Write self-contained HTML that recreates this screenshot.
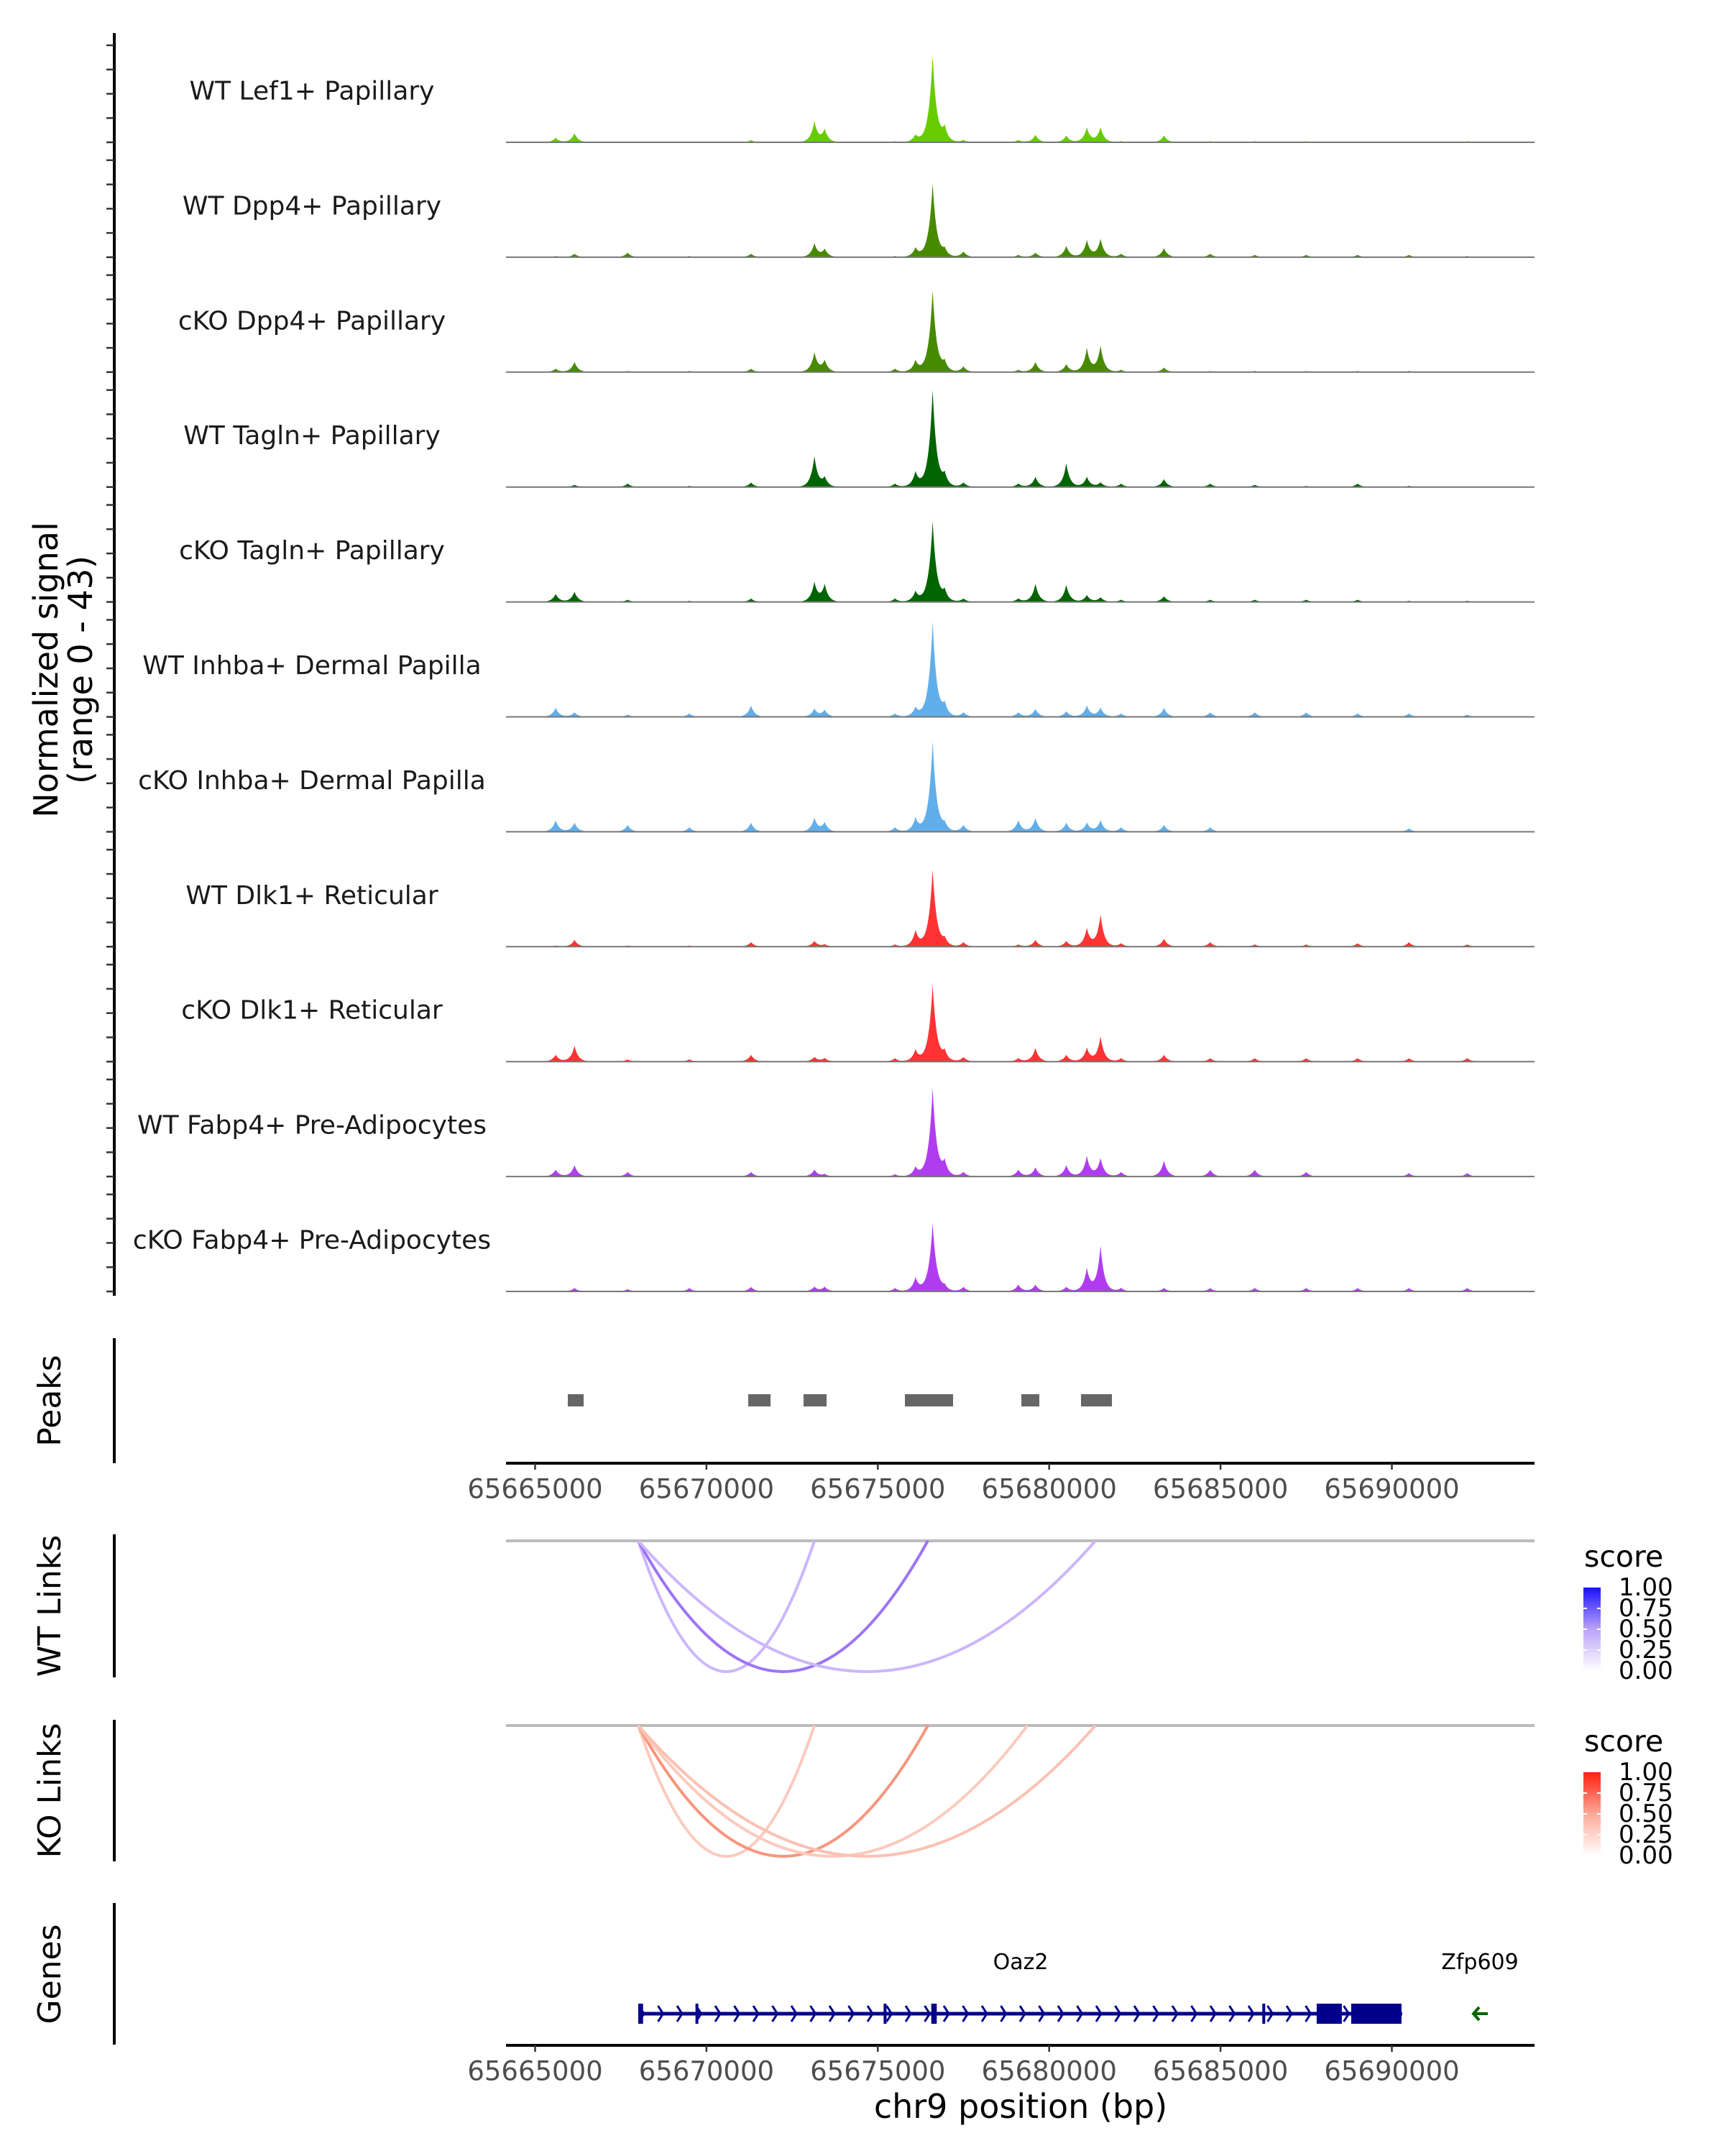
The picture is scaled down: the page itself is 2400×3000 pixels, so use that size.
<!DOCTYPE html>
<html><head><meta charset="utf-8"><title>Coverage tracks</title>
<style>
html,body{margin:0;padding:0;background:#fff;}
svg{display:block;font-family:"DejaVu Sans","Liberation Sans",sans-serif;}
</style></head>
<body>
<svg id="chart" width="2400" height="3000" viewBox="0 0 2400 3000" xmlns="http://www.w3.org/2000/svg">
<defs>
<linearGradient id="gradWT" x1="0" y1="1" x2="0" y2="0">
<stop offset="0" stop-color="#ffffff"/><stop offset="0.5" stop-color="#b9a4f8"/><stop offset="1" stop-color="#1a10ff"/>
</linearGradient>
<linearGradient id="gradKO" x1="0" y1="1" x2="0" y2="0">
<stop offset="0" stop-color="#ffffff"/><stop offset="0.5" stop-color="#fcaa98"/><stop offset="1" stop-color="#ff2010"/>
</linearGradient>
</defs>
<g id="root"></g>
</svg>
<script>
// ---- data ----
const trackNames = ["WT Lef1+ Papillary","WT Dpp4+ Papillary","cKO Dpp4+ Papillary","WT Tagln+ Papillary","cKO Tagln+ Papillary","WT Inhba+ Dermal Papilla","cKO Inhba+ Dermal Papilla","WT Dlk1+ Reticular","cKO Dlk1+ Reticular","WT Fabp4+ Pre-Adipocytes","cKO Fabp4+ Pre-Adipocytes"];
const trackColors = ["#66cc00","#478a00","#478a00","#006400","#006400","#62aeea","#62aeea","#ff3333","#ff3333","#b03cf0","#b03cf0"];
const peakLoci = [65665600,65666150,65667700,65669500,65671300,65673150,65673450,65675500,65676100,65676600,65676950,65677500,65679100,65679600,65680500,65681100,65681500,65682100,65683350,65684700,65686000,65687500,65689000,65690500,65692200];
const sigLef1WT   = [2,4,0.3,0.3,1,9,5.5,0.5,3,38,6,1,1,3.3,3,6.5,6.5,0.5,3,0.5,0.5,0.5,0.3,0.3,0.5];
const sigDpp4WT   = [0.5,1.5,2,0.5,1.5,6,3.5,0.5,4,32.5,3,2.5,1,2,5,7.5,8,1.5,4,1.5,1,1,1,1,0.5];
const sigDpp4KO   = [1.5,4.5,0.5,0.5,1.5,8.5,5,1.5,5,36,4,2.5,1,4.5,3.5,10.5,11.5,1,2,0.5,0.5,0.5,0.5,0.5,0.3];
const sigTaglnWT  = [0,1,1.5,0.5,2,13.5,4,1.5,6.5,43,5,2,1.5,4.5,10.5,4.5,2,1.5,3.5,1.5,1,0.5,1.5,0.5,0];
const sigTaglnKO  = [3.5,4.5,1,0.5,1.5,8.5,7.5,1.5,4.5,35.5,4.5,1.5,1.5,8,7.5,3,2,1,2.5,1,1,1,1,0.5,0.5];
const sigInhbaWT  = [4,2,1,1.5,5,3.5,3,1.5,4,42,5,2,2,3.5,2.5,5,4,1.5,4,2,2,2,1.5,1.5,1];
const sigInhbaKO  = [5,4,3,2,4,6,4,2,6,40,3,3,5,6,4,4,5,2,3,2,0,0,0,1.5,0];
const sigDlk1WT   = [0.5,3,0.5,0.5,2,2.5,1,1,7,34,3,2,1,3,2.5,8,14,1.5,3.5,2,1,1,1.5,2,1];
const sigDlk1KO   = [3,7,1,1,3,2,1.5,1.5,5,34,4,2,1.5,6,3,6,11,1.5,3,1.5,1.5,1.5,1.5,1.5,1.5];
const sigFabp4WT  = [3,5,2,0,2,3,1,1,4,39,6,2,3,4,5,9,8,2,7,3,3,2,0,1.5,1.5];
const sigFabp4KO  = [0,1.5,1,1.5,2,2,2,1.5,6,30,2,2,3,3,2,10,20,1.5,1.5,1.5,1.5,1.5,1.5,1.5,1.5];
const trackSignals = [sigLef1WT,sigDpp4WT,sigDpp4KO,sigTaglnWT,sigTaglnKO,sigInhbaWT,sigInhbaKO,sigDlk1WT,sigDlk1KO,sigFabp4WT,sigFabp4KO];
const peakStarts = [65665954,65671219,65672833,65675791,65679189,65680930];
const peakEnds   = [65666416,65671870,65673505,65677196,65679713,65681832];
const xTicks = [65665000,65670000,65675000,65680000,65685000,65690000];
const wtLinkStart = [65668010,65668010,65668010];
const wtLinkEnd   = [65673150,65676460,65681350];
const wtLinkScore = [0.3,0.65,0.3];
const koLinkStart = [65668010,65668010,65668010,65668010];
const koLinkEnd   = [65673150,65676460,65679365,65681350];
const koLinkScore = [0.25,0.55,0.25,0.3];
const legendTicks = ["1.00","0.75","0.50","0.25","0.00"];
const geneStart = 65668010, geneEnd = 65690300;
const exonStarts = [65668010,65669680,65675170,65676560,65686220,65687806,65688813];
const exonEnds   = [65668150,65669760,65675230,65676720,65686300,65688540,65690281];
const signalMax = 43;

// ---- scales ----
const X0 = 704, X1 = 2135;
function xs(g){ return 744.5 + (g - 65665000) / 5000 * 238.4; }
const trackBase0 = 198, trackStep = 159.9, trackH = 135;
function ys(v, base){ return base - Math.min(v, signalMax) / signalMax * trackH; }

const NS = "http://www.w3.org/2000/svg";
const root = document.getElementById("root");
function mk(tag, attrs, parent){
  const e = document.createElementNS(NS, tag);
  for (const k in attrs) e.setAttribute(k, attrs[k]);
  (parent || root).appendChild(e);
  return e;
}

// left y-axis for coverage
let e = mk("line",{x1:159,y1:46,x2:159,y2:1803,stroke:"#000","stroke-width":4});


for (let i=0;i<trackNames.length;i++){
  const base = trackBase0 + i*trackStep;
  for (let k=0;k<5;k++){
    const ty = base - k*trackH/4;
    const t = mk("line",{x1:148,y1:ty,x2:159,y2:ty,stroke:"#333","stroke-width":2.5});
    
    
  }
}
e = mk("text",{transform:"translate(80,932) rotate(-90)","text-anchor":"middle","font-size":46,fill:"#000"});
e.textContent = "Normalized signal";


e = mk("text",{transform:"translate(128,932) rotate(-90)","text-anchor":"middle","font-size":46,fill:"#000"});
e.textContent = "(range 0 - 43)";



// tracks
for (let i=0;i<trackNames.length;i++){
  const base = trackBase0 + i*trackStep;
  const g = mk("g",{});
  
  
  const lab = mk("text",{x:434,y:base-71,"text-anchor":"middle","dominant-baseline":"central","font-size":36,fill:"#1a1a1a"},g);
  lab.textContent = trackNames[i];
  
  
  const sig = trackSignals[i];
  let d = "M" + xs(65665300).toFixed(1) + "," + base;
  for (let gpos=65665300; gpos<=65692800; gpos+=25){
    let v = 0;
    for (let j=0;j<peakLoci.length;j++){
      const w = sig[j] > 20 ? 120 : 110;
      v += sig[j] * Math.exp(-Math.abs(gpos - peakLoci[j]) / w);
    }
    d += "L" + xs(gpos).toFixed(1) + "," + ys(v, base).toFixed(1);
  }
  d += "L" + xs(65692800).toFixed(1) + "," + base + "Z";
  const area = mk("path",{d:d,fill:trackColors[i],stroke:"none"},g);
  
  
  const bl = mk("line",{x1:X0,y1:base,x2:X1,y2:base,stroke:"#777","stroke-width":2},g);
  
  
}

// peaks panel
e = mk("line",{x1:159,y1:1862,x2:159,y2:2036,stroke:"#000","stroke-width":4});


e = mk("text",{transform:"translate(84,1949) rotate(-90)","text-anchor":"middle","font-size":44,fill:"#000"});
e.textContent = "Peaks";


for (let i=0;i<peakStarts.length;i++){
  const r = mk("rect",{x:xs(peakStarts[i]),y:1940,width:xs(peakEnds[i])-xs(peakStarts[i]),height:17,fill:"#666"});
  
  
}
function xAxis(y, name){
  const a = mk("line",{x1:X0,y1:y,x2:X1,y2:y,stroke:"#000","stroke-width":4});
  
  
  for (let i=0;i<xTicks.length;i++){
    const tx = xs(xTicks[i]);
    const t = mk("line",{x1:tx,y1:y,x2:tx,y2:y+9,stroke:"#333","stroke-width":2.5});
    
    
    const l = mk("text",{x:tx,y:y+36,"text-anchor":"middle","dominant-baseline":"central","font-size":37,fill:"#4d4d4d"});
    l.textContent = xTicks[i];
    
    
  }
}
xAxis(2036,'peaks-x-axis');

// links
function linkPanel(base, starts, ends, scores, c0, c1, title, axisTop, axisBot, name){
  const ax = mk("line",{x1:159,y1:axisTop,x2:159,y2:axisBot,stroke:"#000","stroke-width":4});
  
  
  const tt = mk("text",{transform:"translate(84,"+((axisTop+axisBot)/2)+") rotate(-90)","text-anchor":"middle","font-size":44,fill:"#000"});
  tt.textContent = title;
  
  
  const bl = mk("line",{x1:X0,y1:base,x2:X1,y2:base,stroke:"#bbbbbb","stroke-width":4});
  
  
  const depth = 182;
  for (let i=0;i<starts.length;i++){
    const a = xs(starts[i]), b = xs(ends[i]);
    const s = scores[i];
    const col = "rgb(" + Math.round(c0[0]+(c1[0]-c0[0])*s) + "," + Math.round(c0[1]+(c1[1]-c0[1])*s) + "," + Math.round(c0[2]+(c1[2]-c0[2])*s) + ")";
    const p = mk("path",{d:"M"+a+","+base+" Q"+((a+b)/2)+","+(base+2*depth)+" "+b+","+base,fill:"none",stroke:col,"stroke-width":4});
    
    
  }
}
linkPanel(2144, wtLinkStart, wtLinkEnd, wtLinkScore, [244,238,255],[110,50,240], "WT Links", 2135, 2334, 'wt-links');
linkPanel(2401, koLinkStart, koLinkEnd, koLinkScore, [255,246,242],[240,70,30], "KO Links", 2393, 2590, 'ko-links');

// legends
function legend(top, grad, name){
  const g = mk("g",{});
  
  
  const t = mk("text",{x:2204,y:top-29,"font-size":41,fill:"#000"},g);
  t.textContent = "score";
  
  
  const r = mk("rect",{x:2203,y:top,width:24,height:116,fill:"url(#"+grad+")"},g);
  
  
  for (let i=0;i<legendTicks.length;i++){
    const yy = top + i*116/4;
    if (i>0 && i<4){
      const tk = mk("line",{x1:2203,y1:yy,x2:2208,y2:yy,stroke:"#fff","stroke-width":2},g);
      
      
      const tk2 = mk("line",{x1:2222,y1:yy,x2:2227,y2:yy,stroke:"#fff","stroke-width":2},g);
      
      
    }
    const l = mk("text",{x:2252,y:yy,"dominant-baseline":"central","font-size":34,fill:"#000"},g);
    l.textContent = legendTicks[i];
    
    
  }
}
legend(2209,'gradWT','wt-score-legend');
legend(2466,'gradKO','ko-score-legend');

// genes
e = mk("line",{x1:159,y1:2648,x2:159,y2:2845,stroke:"#000","stroke-width":4});


e = mk("text",{transform:"translate(84,2747) rotate(-90)","text-anchor":"middle","font-size":44,fill:"#000"});
e.textContent = "Genes";


const gy = 2802;
const geneG = mk("g",{});


e = mk("line",{x1:xs(geneStart),y1:gy,x2:xs(geneEnd),y2:gy,stroke:"#00008b","stroke-width":5},geneG);


for (let x = xs(geneStart)+4; x < xs(geneEnd)-6; x += 26.5){
  const c = mk("path",{d:"M"+(x-3)+","+(gy-11)+" L"+(x+4)+","+gy+" L"+(x-3)+","+(gy+11),fill:"none",stroke:"#00008b","stroke-width":3},geneG);
  
  
}
for (let i=0;i<exonStarts.length;i++){
  const w = Math.max(4, xs(exonEnds[i])-xs(exonStarts[i]));
  const r = mk("rect",{x:xs(exonStarts[i]),y:gy-14,width:w,height:28,fill:"#00008b"},geneG);
  
  
}
e = mk("text",{x:1420,y:2740,"text-anchor":"middle","font-size":30,fill:"#000"});
e.textContent = "Oaz2";


e = mk("text",{x:2059,y:2740,"text-anchor":"middle","font-size":30,fill:"#000"});
e.textContent = "Zfp609";


e = mk("path",{d:"M2070,2802 L2050,2802 M2058,2793 L2050,2802 L2058,2811",fill:"none",stroke:"#006400","stroke-width":4});



xAxis(2846,'genes-x-axis');
e = mk("text",{x:1420,y:2931,"text-anchor":"middle","dominant-baseline":"central","font-size":46,fill:"#000"});
e.textContent = "chr9 position (bp)";


</script>
</body></html>
